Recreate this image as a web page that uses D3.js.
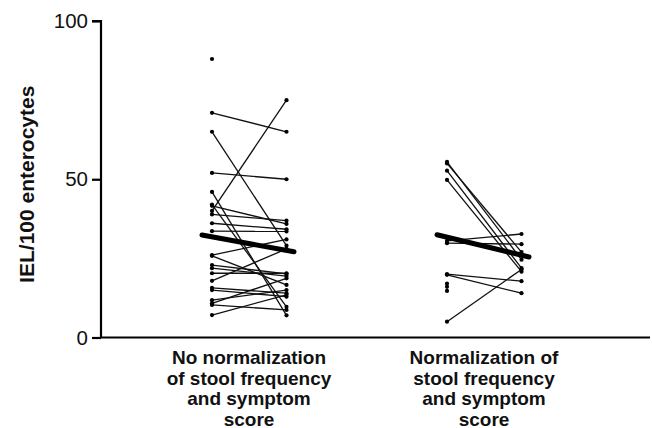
<!DOCTYPE html>
<html><head><meta charset="utf-8">
<script src="https://cdn.jsdelivr.net/npm/d3@7"></script>
<style>
html,body{margin:0;padding:0;background:#fff;}
svg{display:block;font-family:"Liberation Sans",Arial,Helvetica,sans-serif;}
</style></head>
<body><svg id="c" width="652" height="428"></svg>
<script>
// ---- data ----
const groups = ["No normalization of stool frequency and symptom score",
                "Normalization of stool frequency and symptom score"];
const groupLabels = [
  ["No normalization", "of stool frequency", "and symptom", "score"],
  ["Normalization of", "stool frequency", "and symptom", "score"]
];
const times = ["before", "after"];
// group 1: paired values
const g1Pre  = [71, 65, 40, 52, 46, 42, 41.6, 38.9, 36.1, 33.6, 26, 25.8, 22.9, 21.9, 20.3, 17.9, 15.7, 15, 11.8, 10.8, 10.3, 7.1];
const g1Post = [65, 29, 75, 50, 7, 9.7, 35.9, 36.9, 34.2, 33.5, 31, 16.6, 20.1, 19.4, 20.3, 28, 14, 12.9, 15, 18.7, 8.7, 13.5];
const g1PreOnly = [88];
// group 2: paired values
const g2Pre  = [55.5, 55, 52.7, 49.8, 30.5, 29.8, 20, 19.8, 5];
const g2Post = [24.6, 27, 21.9, 20.8, 32.7, 29.5, 17.8, 14, 21.5];
const g2PreOnly = [17, 16, 14.7];
// group means (before, after)
const meanPre  = [31.8, 31.7];
const meanPost = [27.5, 26.0];
const yTicks = [0, 50, 100];
const yLabel = "IEL/100 enterocytes";

// ---- layout ----
const svg = d3.select("#c");
const mLeft = 101, mRight = 650, mTop = 21, mBottom = 337.5;
const y = d3.scaleLinear().domain([0, 100]).range([mBottom, mTop]);
const xg = d3.scalePoint().domain(groups).range([249, 484]);
const xt = d3.scalePoint().domain(times).range([-37, 37.5]);
const X = (g, t) => xg(groups[g]) + xt(t);

// axes
const yAxis = d3.axisLeft(y).tickValues(yTicks).tickSize(9).tickPadding(4).tickFormat(d3.format("d"));
const ga = svg.append("g").attr("transform", `translate(${mLeft},0)`).call(yAxis);
ga.select(".domain").attr("stroke", "#000").attr("stroke-width", 2.2).attr("d", `M-9,${mTop}H0V${mBottom}`);
ga.selectAll(".tick line").attr("stroke", "#000").attr("stroke-width", 2.2);
ga.selectAll(".tick text").attr("font-size", 20.5).attr("fill", "#111")
  .attr("font-family", "Liberation Sans, Arial, sans-serif");
svg.append("line").attr("x1", mLeft - 1).attr("x2", mRight).attr("y1", mBottom).attr("y2", mBottom)
  .attr("stroke", "#000").attr("stroke-width", 2.2);

svg.append("text").attr("transform", `translate(34,${(mTop + mBottom) / 2 + 5}) rotate(-90)`)
  .attr("text-anchor", "middle").attr("font-weight", "bold").attr("font-size", 21)
  .attr("fill", "#111").text(yLabel);

// group labels
groupLabels.forEach((lines, gi) => {
  const t = svg.append("text").attr("text-anchor", "middle").attr("font-weight", "bold")
    .attr("font-size", 19).attr("fill", "#111");
  lines.forEach((s, i) => {
    t.append("tspan").attr("x", xg(groups[gi])).attr("y", 364 + i * 20.5).text(s);
  });
});

// paired lines and dots
function drawGroup(gi, pre, post, preOnly) {
  const gg = svg.append("g");
  pre.forEach((v, i) => {
    gg.append("line").attr("x1", X(gi, "before")).attr("y1", y(v))
      .attr("x2", X(gi, "after")).attr("y2", y(post[i]))
      .attr("stroke", "#111").attr("stroke-width", 1.3);
  });
  const dots = pre.map(v => [X(gi, "before"), y(v)])
    .concat(post.map(v => [X(gi, "after"), y(v)]))
    .concat(preOnly.map(v => [X(gi, "before"), y(v)]));
  gg.selectAll("circle").data(dots).join("circle")
    .attr("cx", d => d[0]).attr("cy", d => d[1]).attr("r", 2.1).attr("fill", "#000");
}
drawGroup(0, g1Pre, g1Post, g1PreOnly);
drawGroup(1, g2Pre, g2Post, g2PreOnly);

// mean lines (extended slightly beyond the dot columns)
[0, 1].forEach(gi => {
  const x1 = X(gi, "before"), x2 = X(gi, "after");
  const y1 = y(meanPre[gi]), y2 = y(meanPost[gi]);
  const s = (y2 - y1) / (x2 - x1);
  const ex1 = 10, ex2 = 7.5;
  svg.append("line").attr("x1", x1 - ex1).attr("y1", y1 - s * ex1)
    .attr("x2", x2 + ex2).attr("y2", y2 + s * ex2)
    .attr("stroke", "#000").attr("stroke-width", 5).attr("stroke-linecap", "round");
});
</script></body></html>
